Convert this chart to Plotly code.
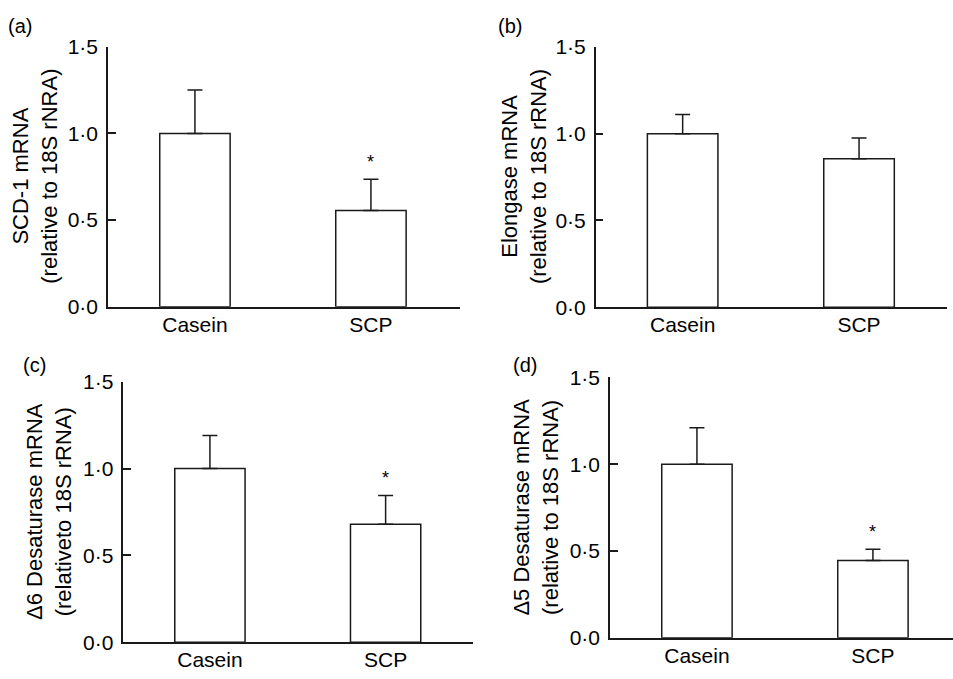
import plotly.graph_objects as go

W, H = 953, 679

categories = ["Casein", "SCP"]

scd1_mean = [1.0, 0.555]
scd1_sem = [0.25, 0.18]
scd1_sig = [False, True]

elong_mean = [1.0, 0.855]
elong_sem = [0.11, 0.12]
elong_sig = [False, False]

d6_mean = [1.0, 0.68]
d6_sem = [0.19, 0.165]
d6_sig = [False, True]

d5_mean = [1.0, 0.445]
d5_sem = [0.21, 0.065]
d5_sig = [False, True]

y_tickvals = [0.0, 0.5, 1.0, 1.5]
y_ticktext = ["0·0", "0·5", "1·0", "1·5"]

panel_labels = ["(a)", "(b)", "(c)", "(d)"]
y_titles = [
    "SCD-1 mRNA<br>(relative to 18S rNRA)",
    "Elongase mRNA<br>(relative to 18S rRNA)",
    "Δ6 Desaturase mRNA<br>(relativeto 18S rRNA)",
    "Δ5 Desaturase mRNA<br>(relative to 18S rRNA)",
]

panels = [
    (scd1_mean, scd1_sem, scd1_sig),
    (elong_mean, elong_sem, elong_sig),
    (d6_mean, d6_sem, d6_sig),
    (d5_mean, d5_sem, d5_sig),
]

# layout geometry in pixels: (axis left, axis right, axis bottom, axis top, x-range)
geom = [
    (108.0, 460.0, 305.0, 36.0, [-0.494, 1.506]),
    (595.7, 946.7, 305.7, 36.0, [-0.493, 1.497]),
    (123.3, 473.3, 652.3, 382.7, [-0.493, 1.499]),
    (610.0, 953.0, 647.7, 378.3, [-0.494, 1.455]),
]
title_x = [35, 524, 49, 536]
label_pos = [(20, 15), (510, 14), (34, 365), (525, 365)]

FONT = "Liberation Sans, Arial, Helvetica, sans-serif"
INK = "#1a1a1a"

fig = go.Figure()
annotations = []

def px_x(p):
    return p / W

def px_y(p):
    return 1 - p / H

for i, ((mean, sem, sig), (xl, xr, yb, yt, xrange)) in enumerate(zip(panels, geom)):
    n = "" if i == 0 else str(i + 1)
    fig.add_trace(go.Bar(
        x=categories, y=mean,
        xaxis="x" + n, yaxis="y" + n,
        width=0.4,
        marker=dict(color="white", line=dict(color=INK, width=1.5)),
        error_y=dict(type="data", array=sem, arrayminus=[0] * len(sem),
                     symmetric=False, color=INK, thickness=1.5, width=7.5),
        showlegend=False,
    ))
    xa = dict(
        domain=[px_x(xl), min(1.0, px_x(xr))],
        range=xrange, anchor="y" + n,
        showline=True, linecolor=INK, linewidth=1.5,
        ticks="", showgrid=False, zeroline=False,
        tickfont=dict(family=FONT, size=21, color="black"),
        ticklabelstandoff=-2,
        fixedrange=True,
    )
    ya = dict(
        domain=[px_y(yb), px_y(yt)],
        range=[0, 1.5], anchor="x" + n,
        showline=True, linecolor=INK, linewidth=1.5,
        ticks="inside", ticklen=8, tickwidth=1.5, tickcolor=INK,
        tickvals=y_tickvals, ticktext=y_ticktext,
        showgrid=False, zeroline=False,
        tickfont=dict(family=FONT, size=21, color="black"),
        ticklabelstandoff=4,
        fixedrange=True,
    )
    fig.update_layout(**{"xaxis" + n: xa, "yaxis" + n: ya})

    for c, m, s, flag in zip(categories, mean, sem, sig):
        if flag:
            annotations.append(dict(
                x=c, y=m + s, xref="x" + n, yref="y" + n,
                text="*", showarrow=False, yanchor="bottom", yshift=5,
                font=dict(family=FONT, size=18, color="black"),
            ))

    annotations.append(dict(
        x=px_x(title_x[i]), y=px_y((yb + yt) / 2), xref="paper", yref="paper",
        text=y_titles[i], textangle=-90, showarrow=False,
        xanchor="center", yanchor="middle",
        font=dict(family=FONT, size=22, color="black"),
    ))
    lx, ly = label_pos[i]
    annotations.append(dict(
        x=px_x(lx), y=px_y(ly), xref="paper", yref="paper",
        text=panel_labels[i], showarrow=False,
        xanchor="center", yanchor="middle",
        font=dict(family=FONT, size=20, color="black"),
    ))

fig.update_layout(
    width=W, height=H,
    margin=dict(l=0, r=0, t=0, b=0),
    paper_bgcolor="white", plot_bgcolor="white",
    annotations=annotations,
)

fig.write_html(
    "out.html",
    config={"displayModeBar": False},
    post_script="document.body.style.margin='0';document.body.style.padding='0';",
)
